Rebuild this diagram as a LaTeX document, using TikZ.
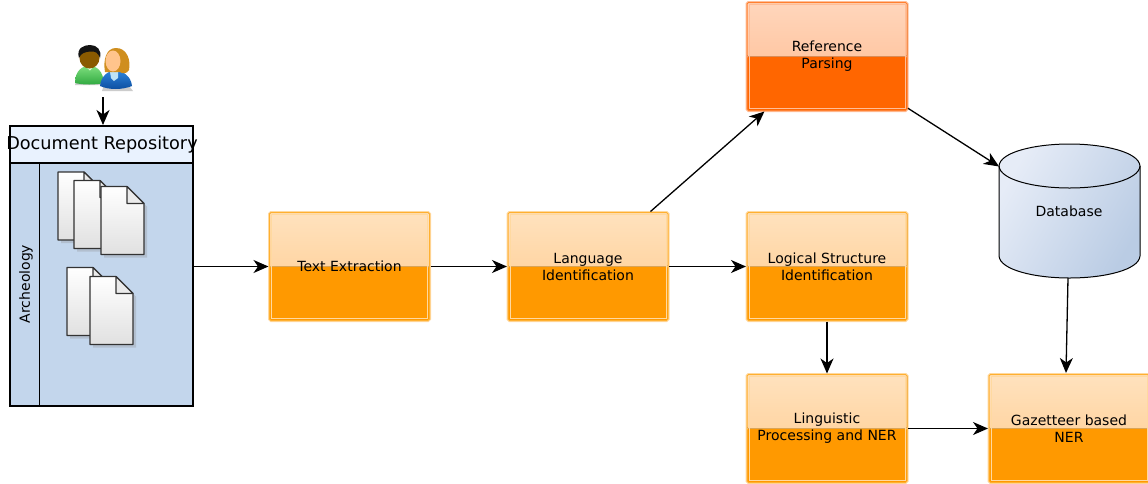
\documentclass[tikz,border=0pt]{standalone}
\usepackage{fontspec}
\setmainfont{DejaVu Sans}
\usetikzlibrary{arrows.meta,calc}
\definecolor{oTop}{HTML}{FFE2BE}
\definecolor{oMid}{HTML}{FFC98A}
\definecolor{oLow}{HTML}{FF9900}
\definecolor{oEdge}{HTML}{FFB030}
\definecolor{oHalo}{HTML}{FFD9A0}
\definecolor{rTop}{HTML}{FFD6BC}
\definecolor{rMid}{HTML}{FFB98C}
\definecolor{rLow}{HTML}{FF6600}
\definecolor{rEdge}{HTML}{FF8030}
\definecolor{rHalo}{HTML}{FFBE98}
\definecolor{repoBody}{HTML}{C3D6EC}
\definecolor{repoHead}{HTML}{E9F2FE}
\definecolor{dbA}{HTML}{E6ECF7}
\definecolor{dbB}{HTML}{BACCE4}
\definecolor{manGreenA}{HTML}{7FE07F}
\definecolor{manGreenB}{HTML}{2FA83F}
\definecolor{manFace}{HTML}{8A5A00}
\definecolor{womBlueA}{HTML}{2E86DE}
\definecolor{womBlueB}{HTML}{0B4C9E}
\definecolor{womHair}{HTML}{CF8E1E}
\definecolor{womFace}{HTML}{FFC48C}
\definecolor{womNeck}{HTML}{BFE3F5}
\tikzset{
  x=1pt,y=-1pt,
  conn/.style={draw=black,line width=1.3pt,-{Stealth[length=15pt,width=13pt,inset=4.5pt]}},
  glossy/.style n args={5}{
    rectangle,minimum width=160pt,minimum height=108pt,inner sep=0pt,outer sep=1pt,
    align=center,font=\fontsize{14}{17}\selectfont,text=black,
    draw=#4,line width=1pt,rounded corners=1.5pt,
    preaction={draw=#5,line width=3pt},
    path picture={
      \fill[top color=#1,bottom color=#2,shading angle=0]
        (path picture bounding box.north west) rectangle (path picture bounding box.east);
      \fill[#3] (path picture bounding box.west) rectangle (path picture bounding box.south east);
      \draw[#5,line width=.7pt,sharp corners]
        ($(path picture bounding box.north west)+(2,2)$) rectangle ($(path picture bounding box.south east)+(-2,-2)$);
    }},
  orangebox/.style={glossy={oTop}{oMid}{oLow}{oEdge}{oHalo}},
  redbox/.style={glossy={rTop}{rMid}{rLow}{rEdge}{rHalo}},
  sheet/.style={draw=black!80,line width=1.1pt,line join=round,top color=white,bottom color=black!12},
  sheetshadow/.style={fill=black!45,opacity=.3,draw=none},
  figbody/.style={draw=none}
}
\newcommand{\docsheet}[2]{%
  \begin{scope}[shift={(#1,#2)}]
    \fill[sheetshadow] (3,3) -- (29,3) -- (46,20) -- (46,71) -- (3,71) -- cycle;
    \path[sheet] (0,0) -- (26,0) -- (43,17) -- (43,68) -- (0,68) -- cycle;
    \path[draw=black!80,line width=1.1pt,line join=round,fill=black!8] (26,0) -- (26,17) -- (43,17) -- cycle;
  \end{scope}}
\begin{document}
\begin{tikzpicture}
\useasboundingbox (0,0) rectangle (1148,483);
\clip (0,0) rectangle (1148,483);
\fill[white] (0,0) rectangle (1148,483);

% users icon
\fill[black!50,opacity=.4] (75,85) .. controls (76,72) and (100,72) .. (106,85) -- cycle;
\shade[top color=manGreenA,bottom color=manGreenB] (75,83) .. controls (75,70) and (83,66) .. (89,65.5) .. controls (97,66) and (103,71) .. (104,83) .. controls (95,85) and (83,85) .. (75,83) -- cycle;
\fill[white!85!green] (85,66) -- (94,66) -- (90,70.5) -- cycle;
\fill[manFace] (89.5,58) ellipse (10 and 10.5);
\fill[black!92] (79,58) .. controls (76,48) and (84,45) .. (90,45) .. controls (97,45) and (102,50) .. (100,58) .. controls (98,53) and (96,51) .. (90,51.5) .. controls (85,52) and (81,53) .. (79,58) -- cycle;
\fill[black!50,opacity=.4] (102,91) .. controls (103,78) and (126,78) .. (133,91) -- cycle;
\shade[top color=womBlueA,bottom color=womBlueB] (100,86) .. controls (101,76) and (108,71) .. (115,70) .. controls (123,71) and (131,76) .. (132,86) .. controls (122,90) and (109,90) .. (100,86) -- cycle;
\fill[womNeck] (110,72) -- (118,72) -- (118,78) -- (114,81) -- (111,78) -- cycle;
\fill[womHair] (105,72) .. controls (103,60) and (106,48) .. (116,48) .. controls (127,48) and (131,60) .. (129,70) .. controls (127,74) and (122,74) .. (120,72) -- cycle;
\fill[womFace] (113,61) ellipse (7.5 and 10.5);
\node[figbody,minimum width=58pt,minimum height=46pt,inner sep=0pt] (users) at (103,68) {};

% repository
\node[draw=black,line width=1.2pt,fill=repoBody,minimum width=183pt,minimum height=243pt,inner sep=0pt,outer sep=.5pt] (repobody) at (101.5,284.5) {};
\node[draw=black,line width=1.2pt,fill=repoHead,minimum width=183pt,minimum height=37pt,inner sep=0pt,outer sep=.5pt] (repohead) at (101.5,144.5) {};
\node[font=\fontsize{17.7}{20}\selectfont,text=black,inner sep=0pt] (repotitle) at (102,145) {Document Repository};
\coordinate (lanetop) at (39,163);
\coordinate (lanebot) at (39,406);
\draw[black,line width=1pt] (lanetop) -- (lanebot);
\node[rotate=90,font=\fontsize{14}{15}\selectfont,text=black,inner sep=0pt] (lane) at (26,284) {Archeology};

% documents
\docsheet{58}{172}
\docsheet{74}{180.5}
\docsheet{101}{186.5}
\docsheet{67}{267.5}
\docsheet{90}{276.5}

% processing boxes
\node[orangebox] (text) at (349.5,266.5) {Text Extraction};
\node[orangebox] (lang) at (588,266.5) {Language\\Identification};
\node[orangebox] (logic) at (827,266.5) {Logical Structure\\Identification};
\node[redbox] (ref) at (827,56.5) {Reference\\Parsing};
\node[orangebox] (ling) at (827,428.5) {Linguistic\\Processing and NER};
\node[orangebox] (gaz) at (1069,428.5) {Gazetteer based\\NER};

% database
\node[minimum width=141pt,minimum height=133pt,inner sep=0pt,outer sep=0pt] (db) at (1069.5,211.5) {};
\shade[left color=dbA,right color=dbB,draw=black,line width=1pt,shading angle=60]
  (999,166) -- (999,256) .. controls (1000,270) and (1035,278) .. (1069.5,278)
  .. controls (1104,278) and (1139,270) .. (1140,256) -- (1140,166)
  .. controls (1139,152) and (1104,144) .. (1069.5,144) .. controls (1035,144) and (1000,152) .. (999,166) -- cycle;
\draw[black,line width=1pt] (999,166) .. controls (1000,180) and (1035,188) .. (1069.5,188) .. controls (1104,188) and (1139,180) .. (1140,166);
\node[font=\fontsize{14}{17}\selectfont,text=black,inner sep=0pt] (dblabel) at (1069,211.5) {Database};

% connectors
\coordinate (usersout) at (103,97);
\coordinate (repoin) at (103,125);
\coordinate (dbout) at (1068,278);
\coordinate (gazin) at (1066,373);
\draw[conn] (usersout) -- (repoin);
\draw[conn] (repobody.east |- text) -- (text.west);
\draw[conn] (text) -- (lang);
\draw[conn] (lang) -- (logic);
\draw[conn] (lang) -- (ref);
\draw[conn] (ref) -- (db);
\draw[conn] (logic) -- (ling);
\draw[conn] (ling) -- (gaz);
\draw[conn] (dbout) -- (gazin);
\end{tikzpicture}
\end{document}
